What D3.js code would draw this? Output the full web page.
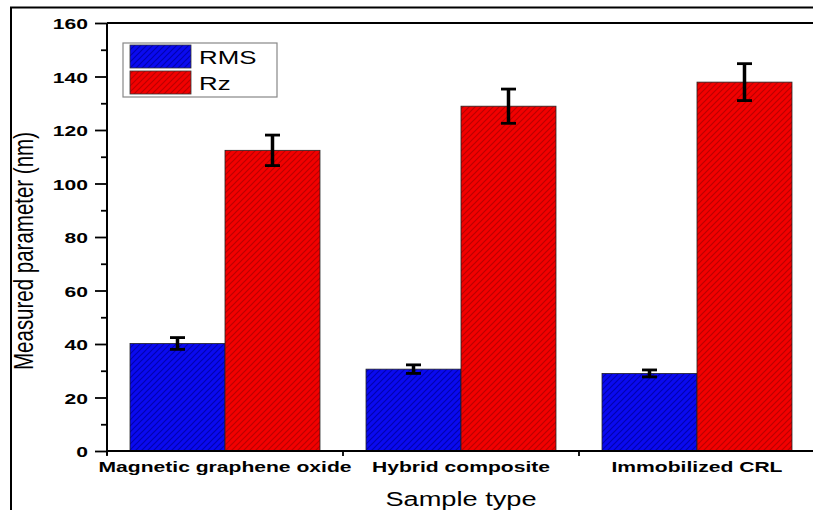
<!DOCTYPE html>
<html><head><meta charset="utf-8">
<script src="https://cdn.jsdelivr.net/npm/d3@7"></script>
<style>
html,body{margin:0;padding:0;background:#fff;overflow:hidden;}
svg{display:block;font-family:"Liberation Sans",Arial,sans-serif;overflow:hidden;}
</style></head>
<body>
<svg id="chart" width="813" height="510"></svg>
<script>
const categories = ["Magnetic graphene oxide", "Hybrid composite", "Immobilized CRL"];
const seriesNames = ["RMS", "Rz"];
const rmsValues = [40.2, 30.6, 29.0];
const rmsErrors = [2.2, 1.6, 1.3];
const rzValues = [112.4, 128.9, 137.9];
const rzErrors = [5.7, 6.4, 6.9];
const yTicks = [0, 20, 40, 60, 80, 100, 120, 140, 160];
const yMinorTicks = [10, 30, 50, 70, 90, 110, 130, 150];

(function () {
const SX = 1.36; // horizontal stretch of the reference picture
const svg = d3.select("#chart");
const pL = 107, pR = 815, pT = 23, pB = 451;

const defs = svg.append("defs");
function hatch(id, base, line) {
  const p = defs.append("pattern").attr("id", id).attr("patternUnits", "userSpaceOnUse")
    .attr("width", 6).attr("height", 6);
  p.append("rect").attr("width", 6).attr("height", 6).attr("fill", base);
  p.append("path").attr("d", "M-1,1 l2,-2 M0,6 l6,-6 M5,7 l2,-2")
    .attr("stroke", line).attr("stroke-width", 1.2);
}
hatch("hBlue", "#0a0af0", "#0000b0");
hatch("hRed", "#f20000", "#bb0000");
const fills = ["url(#hBlue)", "url(#hRed)"];

// outer frame (top and left edges visible)
svg.append("path").attr("d", "M11,510V7.5H813")
  .attr("fill", "none").attr("stroke", "#000").attr("stroke-width", 2);

const x0 = d3.scaleBand().domain(categories).range([pL, pR])
  .paddingInner(0.195).paddingOuter(0.0975);
const x1 = d3.scaleBand().domain(seriesNames).range([0, x0.bandwidth()]).padding(0);
const y = d3.scaleLinear().domain([0, 160]).range([pB, pT]);

const data = categories.map((c, i) => ({
  cat: c,
  vals: [
    {s: "RMS", v: rmsValues[i], e: rmsErrors[i], f: fills[0]},
    {s: "Rz", v: rzValues[i], e: rzErrors[i], f: fills[1]}
  ]
}));

const g = svg.append("g");
const groups = g.selectAll("g.grp").data(data).join("g").attr("class", "grp")
  .attr("transform", d => `translate(${x0(d.cat)},0)`);
groups.selectAll("rect").data(d => d.vals).join("rect")
  .attr("x", d => x1(d.s)).attr("width", x1.bandwidth())
  .attr("y", d => y(d.v)).attr("height", d => y(0) - y(d.v))
  .attr("fill", d => d.f).attr("stroke", "#222").attr("stroke-width", 0.8);
// error bars
const eb = groups.selectAll("g.eb").data(d => d.vals).join("g").attr("class", "eb")
  .attr("transform", d => `translate(${x1(d.s) + x1.bandwidth() / 2},0)`);
eb.append("line").attr("y1", d => y(d.v + d.e)).attr("y2", d => y(d.v - d.e))
  .attr("stroke", "#000").attr("stroke-width", 3.5);
eb.append("line").attr("x1", -7.5).attr("x2", 7.5).attr("y1", d => y(d.v + d.e)).attr("y2", d => y(d.v + d.e))
  .attr("stroke", "#000").attr("stroke-width", 2.8);
eb.append("line").attr("x1", -7.5).attr("x2", 7.5).attr("y1", d => y(d.v - d.e)).attr("y2", d => y(d.v - d.e))
  .attr("stroke", "#000").attr("stroke-width", 2.8);

// plot top line
svg.append("line").attr("x1", pL).attr("x2", 813).attr("y1", pT).attr("y2", pT)
  .attr("stroke", "#000").attr("stroke-width", 2);

// y axis
const yAxis = svg.append("g").attr("transform", `translate(${pL},0)`)
  .call(d3.axisLeft(y).tickValues(yTicks).tickSize(12).tickSizeOuter(0).tickFormat(d3.format("d")));
yAxis.select(".domain").attr("stroke-width", 2).attr("d", `M0,${pT}V${pB + 4}`);
yAxis.selectAll(".tick line").attr("stroke-width", 1.8);
yAxis.selectAll(".tick text").each(function () {
  d3.select(this).attr("x", null).attr("dy", "0.36em")
   .attr("transform", `translate(-19,0) scale(${SX},1)`)
   .attr("font-size", 15.5).attr("font-weight", "bold").attr("fill", "#000")
   .attr("font-family", "'Liberation Sans', Arial, sans-serif");
});
svg.append("g").attr("transform", `translate(${pL},0)`)
  .call(d3.axisLeft(y).tickValues(yMinorTicks).tickSize(6).tickFormat(""))
  .call(a => a.select(".domain").remove())
  .selectAll(".tick line").attr("stroke-width", 1.8);

// x axis
const boundaries = [0, 1, 2, 3].map(i => pL + i * x0.step());
const xAxis = svg.append("g").attr("transform", `translate(0,${pB})`);
xAxis.append("line").attr("x1", pL).attr("x2", 813).attr("stroke", "#000").attr("stroke-width", 1.8);
xAxis.selectAll("line.tk").data(boundaries).join("line").attr("class", "tk")
  .attr("x1", d => d).attr("x2", d => d).attr("y1", 0).attr("y2", 5)
  .attr("stroke", "#000").attr("stroke-width", 1.8);
xAxis.selectAll("text").data(categories).join("text")
  .attr("transform", d => `translate(${x0(d) + x0.bandwidth() / 2},21) scale(${SX},1)`)
  .attr("text-anchor", "middle").attr("font-size", 15.5).attr("font-weight", "bold")
  .text(d => d);

// axis titles
svg.append("text").attr("transform", `translate(461,506) scale(${SX},1)`)
  .attr("text-anchor", "middle").attr("font-size", 20).text("Sample type");
svg.append("text").attr("transform", `translate(33,251) scale(${SX},1) rotate(-90)`)
  .attr("text-anchor", "middle").attr("font-size", 20.5).text("Measured parameter (nm)");

// legend
const lg = svg.append("g");
lg.append("rect").attr("x", 123).attr("y", 43).attr("width", 154).attr("height", 54)
  .attr("fill", "#fff").attr("stroke", "#888").attr("stroke-width", 1.2);
seriesNames.forEach((s, i) => {
  lg.append("rect").attr("x", 130).attr("y", 45 + i * 26).attr("width", 61).attr("height", 23)
    .attr("fill", fills[i]).attr("stroke", "#333").attr("stroke-width", 0.8);
  lg.append("text").attr("transform", `translate(199,${63.5 + i * 26}) scale(${SX},1)`)
    .attr("font-size", 19).text(s);
});
})();
</script>
</body></html>
